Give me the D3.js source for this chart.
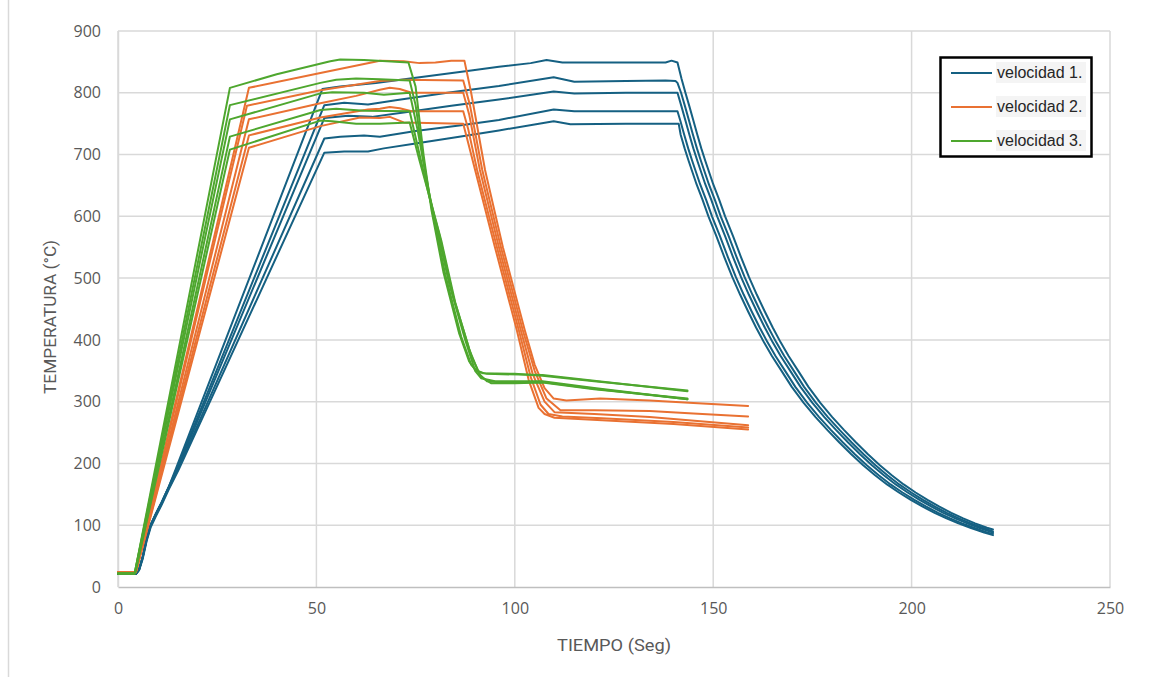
<!DOCTYPE html>
<html>
<head>
<meta charset="utf-8">
<script src="https://cdn.jsdelivr.net/npm/d3@7"></script>
<style>
  html, body { margin: 0; padding: 0; background: #ffffff; }
  svg { display: block; }
</style>
</head>
<body>
<svg id="chart" width="1150" height="677"></svg>
<script>
// Temperature (°C) vs time (s) for three heating rates, five runs each.
// Each run is a list of [tiempo, temperatura] readings.

const xTicks = [0, 50, 100, 150, 200, 250];
const yTicks = [0, 100, 200, 300, 400, 500, 600, 700, 800, 900];
const seriesNames = ["velocidad 1.", "velocidad 2.", "velocidad 3."];
const seriesColors = ["#156082", "#E97132", "#4EA72E"];

// velocidad 1
const v1_run1 = [[0,21],[4.5,21],[5.3,28],[6.2,48],[7.2,78],[8.2,100],[9.5,118],[11,137],[12.8,162],[14.5,190],[51.5,806],[56,810],[65,816],[76,825],[89,836],[96,842],[104,848],[108,853],[112,849],[125,849],[138,849],[139.5,852],[141,849],[142,823],[143,800],[144,778],[145,755],[146,732],[147,710],[148,690],[149,671],[150,652],[151.5,627],[153,600],[155,568],[157,534],[159,502],[161,473],[163,446],[165,420],[167,396],[169,374],[171.5,349],[174,324],[177,298],[180,275],[183,254],[186,234],[189,215],[192,197],[195,181],[198,166],[201,153],[204,141],[207,130],[210,120],[213,111],[216,103],[219,96],[220.5,93]];
const v1_run2 = [[0,21],[4.5,21],[5.3,28],[6.2,48],[7.2,78],[8.2,100],[9.5,118],[11,137],[12.8,162],[14.7,190],[52,780],[57,784],[63,781],[70,788],[83,800],[96,811],[109.8,825],[115,818],[128,819],[138,820],[140.5,819],[141,816],[141.9,800],[142.9,778],[143.9,755],[144.9,732],[145.9,710],[146.9,690],[147.9,671],[148.9,652],[150.4,627],[151.9,600],[153.9,568],[155.9,534],[157.9,502],[159.9,473],[161.9,446],[163.9,420],[165.9,396],[167.9,374],[170.4,349],[172.9,324],[175.9,298],[178.9,275],[181.9,254],[184.9,234],[187.9,215],[190.9,197],[193.9,181],[196.9,166],[199.9,153],[202.9,141],[205.9,130],[208.9,120],[211.9,111],[214.9,103],[217.9,96],[220.5,90]];
const v1_run3 = [[0,21],[4.5,21],[5.3,28],[6.2,48],[7.2,78],[8.2,100],[9.5,118],[11,137],[12.8,162],[14.9,190],[52,759],[58,763],[64,761],[72,768],[84,779],[96,789],[109.8,802],[115,799],[128,800],[141,800],[142,778],[143,755],[144,732],[145,710],[146,690],[147,671],[148,652],[149.5,627],[151,600],[153,568],[155,534],[157,502],[159,473],[161,446],[163,420],[165,396],[167,374],[169.5,349],[172,324],[175,298],[178,275],[181,254],[184,234],[187,215],[190,197],[193,181],[196,166],[199,153],[202,141],[205,130],[208,120],[211,111],[214,103],[217,96],[220.5,88]];
const v1_run4 = [[0,21],[4.5,21],[5.3,28],[6.2,47],[7.2,76],[8.2,98],[9.5,116],[11,135],[12.8,160],[15.1,190],[52,726],[56,729],[62,731],[66,729],[75,738],[86,747],[96,756],[109.8,773],[115,770],[128,770],[141,770],[141.7,755],[142.7,732],[143.7,710],[144.7,690],[145.7,671],[146.7,652],[148.2,627],[149.7,600],[151.7,568],[153.7,534],[155.7,502],[157.7,473],[159.7,446],[161.7,420],[163.7,396],[165.7,374],[168.2,349],[170.7,324],[173.7,298],[176.7,275],[179.7,254],[182.7,234],[185.7,215],[188.7,197],[191.7,181],[194.7,166],[197.7,153],[200.7,141],[203.7,130],[206.7,120],[209.7,111],[212.7,103],[215.7,96],[219.2,88],[220.5,86]];
const v1_run5 = [[0,21],[4.5,21],[5.3,27],[6.2,45],[7.2,74],[8.2,96],[9.5,114],[11,133],[12.8,158],[15.3,190],[52,703],[57,705],[63,705],[67,710],[75,718],[86,729],[96,739],[109.8,754],[114,749],[128,750],[141.3,750],[141.8,732],[142.8,710],[143.8,690],[144.8,671],[145.8,652],[147.3,627],[148.8,600],[150.8,568],[152.8,534],[154.8,502],[156.8,473],[158.8,446],[160.8,420],[162.8,396],[164.8,374],[167.3,349],[169.8,324],[172.8,298],[175.8,275],[178.8,254],[181.8,234],[184.8,215],[187.8,197],[190.8,181],[193.8,166],[196.8,153],[199.8,141],[202.8,130],[205.8,120],[208.8,111],[211.8,103],[214.8,96],[218.3,88],[220.5,84]];

// velocidad 2
const v2_run1 = [[0,24],[4.5,24],[33,808],[51,832],[66,852],[72,851],[76,848],[80,849],[84,852],[87.3,852],[89,800],[92.5,675],[97,550],[102.5,416],[105,360],[107.5,322],[109.8,305],[113,302],[121.5,305],[134,302],[145,298],[158.8,293]];
const v2_run2 = [[0,24],[4.5,24],[32.5,779],[51,804],[66,819],[72,821],[87,820],[88.7,780],[91.8,675],[96.5,550],[102,416],[105,350],[108,305],[111.5,286],[120,286],[134,285],[145,281],[158.8,276]];
const v2_run3 = [[0,24],[4.5,24],[33,757],[51,783],[60,795],[66,805],[68.5,808],[71,806],[74,800],[87,800],[88.5,765],[91.2,675],[96,550],[101.5,416],[104.5,345],[107.5,300],[110,283],[120,280],[134,275],[158.8,262]];
const v2_run4 = [[0,24],[4.5,24],[33,731],[51,760],[63,773],[66,774],[68.5,777],[71,775],[74,770],[87,770],[88.3,740],[90.5,675],[95.5,550],[101,416],[104,340],[106.5,295],[108.5,280],[112,276],[122,273],[140,267],[158.8,258]];
const v2_run5 = [[0,24],[4.5,24],[33,711],[51,746],[61,760],[66,759],[68.5,761],[72,752],[87,750],[88,725],[90,675],[95,550],[100.5,416],[103.5,335],[106,290],[107.5,280],[110,274],[122,270],[140,264],[158.8,255]];

// velocidad 3
const v3_run1 = [[0,22],[4.2,22],[28.2,808],[40,830],[53.5,851],[56,854],[62,853],[67.8,851],[73.2,849],[75,810],[77,700],[79,610],[82,510],[86,410],[88.5,365],[90,352],[92,346],[100,345],[107,342],[120,333],[143.5,318]];
const v3_run2 = [[0,22],[4.2,22],[28.2,780],[51,816],[55,821],[60,823],[66,822],[73.5,820],[75,780],[77,690],[79.3,605],[82.5,505],[86.5,405],[89,360],[90.5,349],[93,345],[107,343],[120,334],[143.5,317]];
const v3_run3 = [[0,22],[4.2,22],[28.2,757],[51,799],[54,801],[62,800],[67,797],[73.5,800],[75.5,740],[78,650],[80,590],[83.5,490],[87.5,400],[90,350],[91.5,338],[95,333],[107,333],[120,322],[143.5,304]];
const v3_run4 = [[0,22],[4.3,22],[28.2,729],[51,772],[55,774],[62,771],[73.5,770],[76,700],[78.5,630],[81,570],[84.5,470],[88.5,385],[91,345],[93,333],[97,331],[107,332],[120,321],[143.5,304]];
const v3_run5 = [[0,22],[4.3,22],[28.2,708],[51,755],[54,754],[60,750],[66,750],[73.5,752],[76,690],[79,620],[81.5,560],[85,460],[89,375],[91.5,340],[94,330],[100,330],[107,331],[120,320],[143.5,305]];

const velocidad1 = [v1_run1, v1_run2, v1_run3, v1_run4, v1_run5];
const velocidad2 = [v2_run1, v2_run2, v2_run3, v2_run4, v2_run5];
const velocidad3 = [v3_run1, v3_run2, v3_run3, v3_run4, v3_run5];
const groups = [velocidad1, velocidad2, velocidad3];

const svg = d3.select("#chart");
const W = 1150, H = 677;
const plot = { left: 118, right: 1110, top: 31, bottom: 587 };

const x = d3.scaleLinear().domain([0, 250]).range([plot.left, plot.right]);
const y = d3.scaleLinear().domain([0, 900]).range([plot.bottom, plot.top]);

// background and outer frame
svg.append("rect").attr("width", W).attr("height", H).attr("fill", "#ffffff");
svg.append("line")
  .attr("x1", 8.5).attr("x2", 8.5).attr("y1", 0).attr("y2", H)
  .attr("stroke", "#d9d9d9").attr("stroke-width", 1.5);

// grid
const grid = svg.append("g");
grid.selectAll("line.h").data(yTicks.filter(d => d > 0)).join("line")
  .attr("x1", plot.left).attr("x2", plot.right)
  .attr("y1", d => y(d)).attr("y2", d => y(d))
  .attr("stroke", "#d9d9d9").attr("stroke-width", 1.5);
grid.selectAll("line.v").data(xTicks).join("line")
  .attr("y1", plot.top).attr("y2", plot.bottom)
  .attr("x1", d => x(d)).attr("x2", d => x(d))
  .attr("stroke", "#d9d9d9").attr("stroke-width", 1.5);

// axes
const xAxis = d3.axisBottom(x).tickValues(xTicks).tickSize(0).tickPadding(16);
const yAxis = d3.axisLeft(y).tickValues(yTicks).tickSize(0).tickPadding(17);

const gx = svg.append("g").attr("transform", `translate(0,${plot.bottom})`).call(xAxis);
gx.select(".domain").attr("stroke", "#bfbfbf").attr("stroke-width", 1.5);
gx.selectAll("text").attr("font-family", "Open Sans, Noto Sans, sans-serif")
  .attr("font-size", 16).attr("fill", "#595959");

const gy = svg.append("g").attr("transform", `translate(${plot.left},0)`).call(yAxis);
gy.select(".domain").attr("stroke", "#d9d9d9").attr("stroke-width", 1.5);
gy.selectAll("text").attr("font-family", "Open Sans, Noto Sans, sans-serif")
  .attr("font-size", 16).attr("fill", "#595959");

// axis titles
svg.append("text")
  .attr("x", 614).attr("y", 651)
  .attr("text-anchor", "middle")
  .attr("font-family", "Roboto, Noto Sans, sans-serif")
  .attr("font-size", 17).attr("fill", "#595959")
  .attr("textLength", 114).attr("lengthAdjust", "spacingAndGlyphs")
  .text("TIEMPO (Seg)");
svg.append("text")
  .attr("transform", "translate(56,317) rotate(-90)")
  .attr("text-anchor", "middle")
  .attr("font-family", "Roboto, Noto Sans, sans-serif")
  .attr("font-size", 17).attr("fill", "#595959")
  .attr("textLength", 154).attr("lengthAdjust", "spacingAndGlyphs")
  .text("TEMPERATURA (°C)");

// curves
const line = d3.line().x(d => x(d[0])).y(d => y(d[1]));
const curves = svg.append("g").attr("fill", "none")
  .attr("stroke-linejoin", "round").attr("stroke-linecap", "round");
groups.forEach((runs, gi) => {
  curves.append("g")
    .selectAll("path").data(runs).join("path")
    .attr("d", line)
    .attr("stroke", seriesColors[gi])
    .attr("stroke-width", 2);
});

// legend
const lg = svg.append("g");
lg.append("rect")
  .attr("x", 940.5).attr("y", 57.5).attr("width", 151).attr("height", 99)
  .attr("fill", "#ffffff").attr("stroke", "#000000").attr("stroke-width", 2.5);
seriesNames.forEach((name, i) => {
  const ly = 73 + i * 34;
  lg.append("line")
    .attr("x1", 951).attr("x2", 992).attr("y1", ly).attr("y2", ly)
    .attr("stroke", seriesColors[i]).attr("stroke-width", 2);
  lg.append("rect")
    .attr("x", 996).attr("y", ly - 11).attr("width", 90).attr("height", 21)
    .attr("fill", "#f4f4f4");
  lg.append("text")
    .attr("x", 997).attr("y", ly + 5)
    .attr("font-family", "Liberation Sans, Arial, sans-serif")
    .attr("font-size", 16).attr("fill", "#262626")
    .text(name);
});
</script>
</body>
</html>
